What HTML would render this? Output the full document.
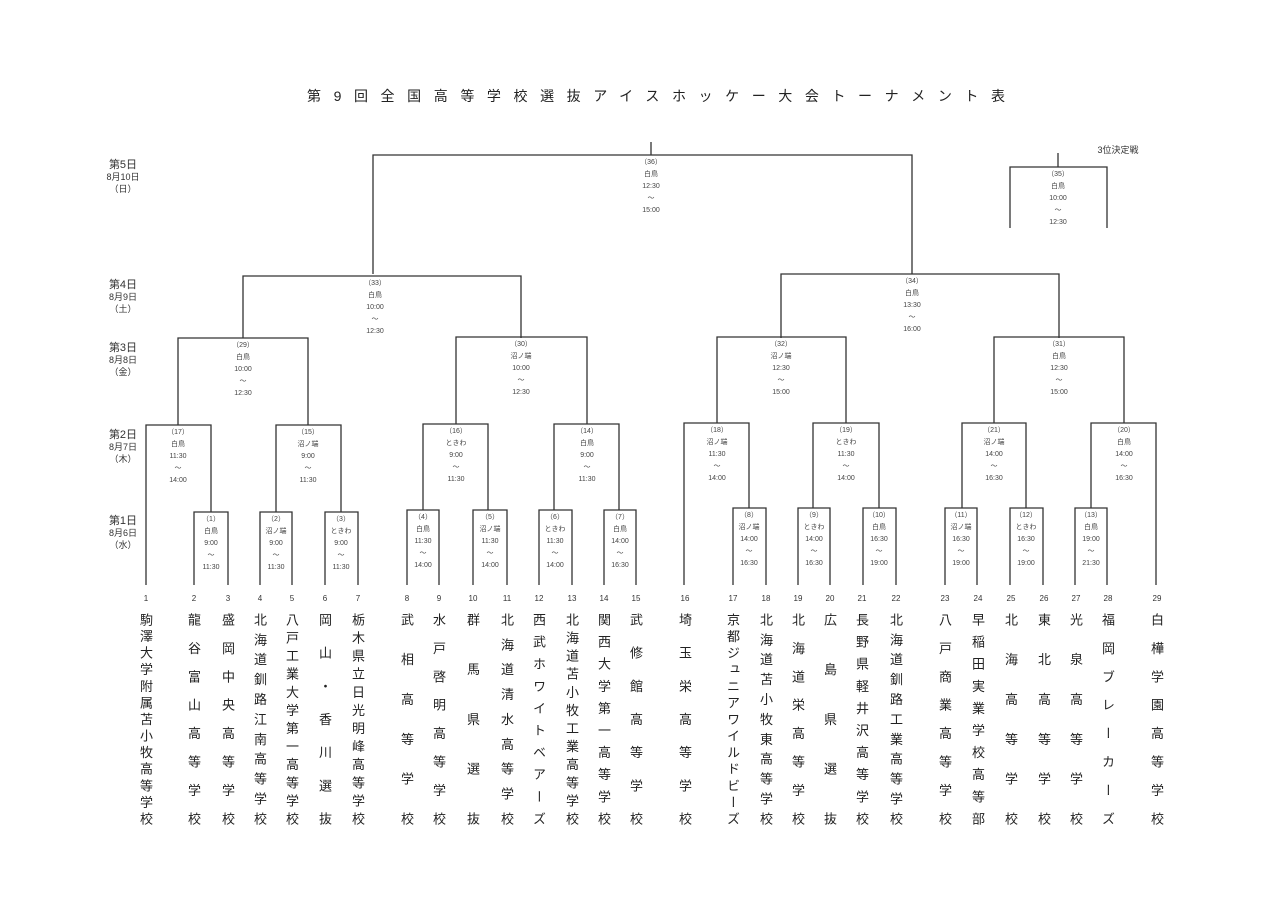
<!DOCTYPE html>
<html><head><meta charset="utf-8">
<style>
html,body{margin:0;padding:0;background:#fff;}
body{width:1280px;height:904px;position:relative;overflow:hidden;font-family:"Liberation Sans","Noto Sans CJK JP",sans-serif;}
svg{position:absolute;left:0;top:0;}
.n{position:absolute;top:613px;height:212px;width:18px;writing-mode:vertical-rl;text-orientation:upright;font-size:13px;line-height:18px;text-align:justify;text-align-last:justify;color:#222;font-family:"Noto Sans CJK JP",sans-serif;}
</style></head><body>
<svg width="1280" height="904" viewBox="0 0 1280 904" font-family="Liberation Sans, Noto Sans CJK JP, sans-serif">
<text x="307" y="101" font-size="14" textLength="698" lengthAdjust="spacing" fill="#222">第9回全国高等学校選抜アイスホッケー大会トーナメント表</text>
<g font-size="10" fill="#333" text-anchor="middle">
<text x="123" y="168" font-size="11">第5日</text><text x="123" y="180" font-size="9">8月10日</text><text x="123" y="192" font-size="9">（日）</text>
<text x="123" y="288" font-size="11">第4日</text><text x="123" y="300" font-size="9">8月9日</text><text x="123" y="312" font-size="9">（土）</text>
<text x="123" y="351" font-size="11">第3日</text><text x="123" y="363" font-size="9">8月8日</text><text x="123" y="375" font-size="9">（金）</text>
<text x="123" y="438" font-size="11">第2日</text><text x="123" y="450" font-size="9">8月7日</text><text x="123" y="462" font-size="9">（木）</text>
<text x="123" y="524" font-size="11">第1日</text><text x="123" y="536" font-size="9">8月6日</text><text x="123" y="548" font-size="9">（水）</text>
<text x="1118" y="153" font-size="9">3位決定戦</text>
</g>
<g stroke="#333" stroke-width="1.3" fill="none">
<!-- final -->
<path d="M651 142V155M373 274V155H912V274"/>
<path d="M1058 153V167M1010 228V167H1107V228"/>
<!-- R4 -->
<path d="M243 338V276H521V338"/>
<path d="M781 338V274H1059V338"/>
<!-- R3 -->
<path d="M178 425V338H308V425"/>
<path d="M456 424V337H587V424"/>
<path d="M717 423V337H846V423"/>
<path d="M994 423V337H1124V423"/>
<!-- R2 -->
<path d="M146 585V425H211V512"/>
<path d="M276 512V425H341V512"/>
<path d="M423 510V424H488V510"/>
<path d="M554 510V424H619V510"/>
<path d="M684 585V423H749V508"/>
<path d="M813 508V423H879V508"/>
<path d="M962 508V423H1026V508"/>
<path d="M1091 508V423H1156V585"/>
<!-- R1 -->
<path d="M194 585V512H228V585"/>
<path d="M260 585V512H292V585"/>
<path d="M325 585V512H358V585"/>
<path d="M407 585V510H439V585"/>
<path d="M473 585V510H507V585"/>
<path d="M539 585V510H572V585"/>
<path d="M604 585V510H636V585"/>
<path d="M733 585V508H766V585"/>
<path d="M798 585V508H830V585"/>
<path d="M863 585V508H896V585"/>
<path d="M945 585V508H977V585"/>
<path d="M1010 585V508H1043V585"/>
<path d="M1075 585V508H1107V585"/>
</g>
<g font-size="7" fill="#444" text-anchor="middle">
<!-- final labels -->
<g transform="translate(651,155)"><text y="9">（36）</text><text y="21">白鳥</text><text y="33">12:30</text><text y="45">～</text><text y="57">15:00</text></g>
<g transform="translate(1058,167)"><text y="9">（35）</text><text y="21">白鳥</text><text y="33">10:00</text><text y="45">～</text><text y="57">12:30</text></g>
<g transform="translate(375,276)"><text y="9">（33）</text><text y="21">白鳥</text><text y="33">10:00</text><text y="45">～</text><text y="57">12:30</text></g>
<g transform="translate(912,274)"><text y="9">（34）</text><text y="21">白鳥</text><text y="33">13:30</text><text y="45">～</text><text y="57">16:00</text></g>
<g transform="translate(243,338)"><text y="9">（29）</text><text y="21">白鳥</text><text y="33">10:00</text><text y="45">～</text><text y="57">12:30</text></g>
<g transform="translate(521,337)"><text y="9">（30）</text><text y="21">沼ノ端</text><text y="33">10:00</text><text y="45">～</text><text y="57">12:30</text></g>
<g transform="translate(781,337)"><text y="9">（32）</text><text y="21">沼ノ端</text><text y="33">12:30</text><text y="45">～</text><text y="57">15:00</text></g>
<g transform="translate(1059,337)"><text y="9">（31）</text><text y="21">白鳥</text><text y="33">12:30</text><text y="45">～</text><text y="57">15:00</text></g>
<g transform="translate(178,425)"><text y="9">（17）</text><text y="21">白鳥</text><text y="33">11:30</text><text y="45">～</text><text y="57">14:00</text></g>
<g transform="translate(308,425)"><text y="9">（15）</text><text y="21">沼ノ端</text><text y="33">9:00</text><text y="45">～</text><text y="57">11:30</text></g>
<g transform="translate(456,424)"><text y="9">（16）</text><text y="21">ときわ</text><text y="33">9:00</text><text y="45">～</text><text y="57">11:30</text></g>
<g transform="translate(587,424)"><text y="9">（14）</text><text y="21">白鳥</text><text y="33">9:00</text><text y="45">～</text><text y="57">11:30</text></g>
<g transform="translate(717,423)"><text y="9">（18）</text><text y="21">沼ノ端</text><text y="33">11:30</text><text y="45">～</text><text y="57">14:00</text></g>
<g transform="translate(846,423)"><text y="9">（19）</text><text y="21">ときわ</text><text y="33">11:30</text><text y="45">～</text><text y="57">14:00</text></g>
<g transform="translate(994,423)"><text y="9">（21）</text><text y="21">沼ノ端</text><text y="33">14:00</text><text y="45">～</text><text y="57">16:30</text></g>
<g transform="translate(1124,423)"><text y="9">（20）</text><text y="21">白鳥</text><text y="33">14:00</text><text y="45">～</text><text y="57">16:30</text></g>
<g transform="translate(211,512)"><text y="9">（1）</text><text y="21">白鳥</text><text y="33">9:00</text><text y="45">～</text><text y="57">11:30</text></g>
<g transform="translate(276,512)"><text y="9">（2）</text><text y="21">沼ノ端</text><text y="33">9:00</text><text y="45">～</text><text y="57">11:30</text></g>
<g transform="translate(341,512)"><text y="9">（3）</text><text y="21">ときわ</text><text y="33">9:00</text><text y="45">～</text><text y="57">11:30</text></g>
<g transform="translate(423,510)"><text y="9">（4）</text><text y="21">白鳥</text><text y="33">11:30</text><text y="45">～</text><text y="57">14:00</text></g>
<g transform="translate(490,510)"><text y="9">（5）</text><text y="21">沼ノ端</text><text y="33">11:30</text><text y="45">～</text><text y="57">14:00</text></g>
<g transform="translate(555,510)"><text y="9">（6）</text><text y="21">ときわ</text><text y="33">11:30</text><text y="45">～</text><text y="57">14:00</text></g>
<g transform="translate(620,510)"><text y="9">（7）</text><text y="21">白鳥</text><text y="33">14:00</text><text y="45">～</text><text y="57">16:30</text></g>
<g transform="translate(749,508)"><text y="9">（8）</text><text y="21">沼ノ端</text><text y="33">14:00</text><text y="45">～</text><text y="57">16:30</text></g>
<g transform="translate(814,508)"><text y="9">（9）</text><text y="21">ときわ</text><text y="33">14:00</text><text y="45">～</text><text y="57">16:30</text></g>
<g transform="translate(879,508)"><text y="9">（10）</text><text y="21">白鳥</text><text y="33">16:30</text><text y="45">～</text><text y="57">19:00</text></g>
<g transform="translate(961,508)"><text y="9">（11）</text><text y="21">沼ノ端</text><text y="33">16:30</text><text y="45">～</text><text y="57">19:00</text></g>
<g transform="translate(1026,508)"><text y="9">（12）</text><text y="21">ときわ</text><text y="33">16:30</text><text y="45">～</text><text y="57">19:00</text></g>
<g transform="translate(1091,508)"><text y="9">（13）</text><text y="21">白鳥</text><text y="33">19:00</text><text y="45">～</text><text y="57">21:30</text></g>
</g>
<g font-size="8" fill="#333" text-anchor="middle">
<text x="146" y="601">1</text><text x="194" y="601">2</text><text x="228" y="601">3</text><text x="260" y="601">4</text><text x="292" y="601">5</text><text x="325" y="601">6</text><text x="358" y="601">7</text><text x="407" y="601">8</text><text x="439" y="601">9</text><text x="473" y="601">10</text><text x="507" y="601">11</text><text x="539" y="601">12</text><text x="572" y="601">13</text><text x="604" y="601">14</text><text x="636" y="601">15</text><text x="685" y="601">16</text><text x="733" y="601">17</text><text x="766" y="601">18</text><text x="798" y="601">19</text><text x="830" y="601">20</text><text x="862" y="601">21</text><text x="896" y="601">22</text><text x="945" y="601">23</text><text x="978" y="601">24</text><text x="1011" y="601">25</text><text x="1044" y="601">26</text><text x="1076" y="601">27</text><text x="1108" y="601">28</text><text x="1157" y="601">29</text>
</g>
</svg>
<div class="n" style="left:137px">駒澤大学附属苫小牧高等学校</div>
<div class="n" style="left:185px">龍谷富山高等学校</div>
<div class="n" style="left:219px">盛岡中央高等学校</div>
<div class="n" style="left:251px">北海道釧路江南高等学校</div>
<div class="n" style="left:283px">八戸工業大学第一高等学校</div>
<div class="n" style="left:316px">岡山・香川選抜</div>
<div class="n" style="left:349px">栃木県立日光明峰高等学校</div>
<div class="n" style="left:398px">武相高等学校</div>
<div class="n" style="left:430px">水戸啓明高等学校</div>
<div class="n" style="left:464px">群馬県選抜</div>
<div class="n" style="left:498px">北海道清水高等学校</div>
<div class="n" style="left:530px">西武ホワイトベアーズ</div>
<div class="n" style="left:563px">北海道苫小牧工業高等学校</div>
<div class="n" style="left:595px">関西大学第一高等学校</div>
<div class="n" style="left:627px">武修館高等学校</div>
<div class="n" style="left:676px">埼玉栄高等学校</div>
<div class="n" style="left:724px">京都ジュニアワイルドビーズ</div>
<div class="n" style="left:757px">北海道苫小牧東高等学校</div>
<div class="n" style="left:789px">北海道栄高等学校</div>
<div class="n" style="left:821px">広島県選抜</div>
<div class="n" style="left:853px">長野県軽井沢高等学校</div>
<div class="n" style="left:887px">北海道釧路工業高等学校</div>
<div class="n" style="left:936px">八戸商業高等学校</div>
<div class="n" style="left:969px">早稲田実業学校高等部</div>
<div class="n" style="left:1002px">北海高等学校</div>
<div class="n" style="left:1035px">東北高等学校</div>
<div class="n" style="left:1067px">光泉高等学校</div>
<div class="n" style="left:1099px">福岡ブレーカーズ</div>
<div class="n" style="left:1148px">白樺学園高等学校</div>
</body></html>
